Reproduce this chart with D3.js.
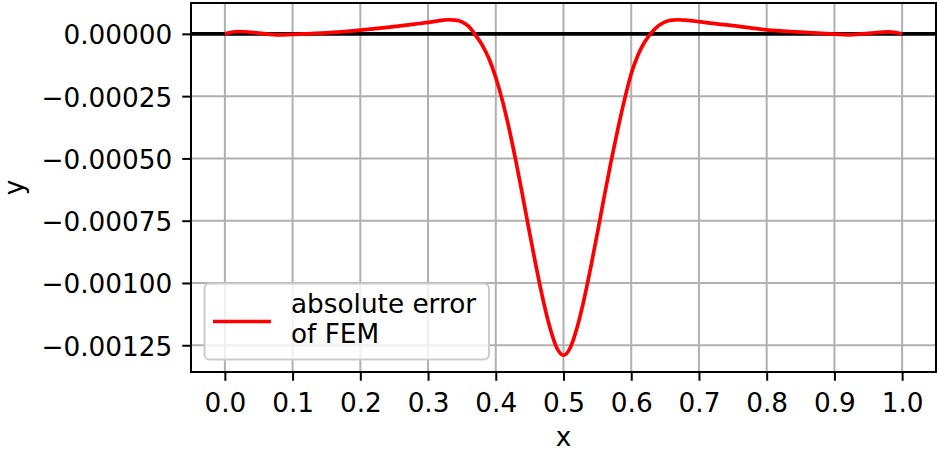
<!DOCTYPE html>
<html>
<head>
<meta charset="utf-8">
<script src="https://cdn.jsdelivr.net/npm/d3@7"></script>
<style>
  body { margin: 0; background: #fff; }
  text { font-family: "DejaVu Sans", sans-serif; }
</style>
</head>
<body>
<svg width="937" height="452"></svg>
<script>
// Sample points of the FEM error curve.
var xs = [0, 0.02, 0.05, 0.08, 0.1, 0.15, 0.2, 0.25, 0.28, 0.3, 0.32, 0.33, 0.34, 0.35, 0.36, 0.37,
  0.38, 0.39, 0.40, 0.41, 0.42, 0.43, 0.44, 0.45, 0.46, 0.47, 0.48, 0.49, 0.50,
  0.51, 0.52, 0.53, 0.54, 0.55, 0.56, 0.57, 0.58, 0.59, 0.60, 0.61, 0.62, 0.63,
  0.64, 0.65, 0.66, 0.67, 0.68, 0.70, 0.72, 0.75, 0.8, 0.85, 0.9, 0.92, 0.95, 0.98, 1.0];
var ys = [0, 0.0000095, 0.000003, -0.000004, -0.000002, 0.000004, 0.000015, 0.000029, 0.000039, 0.000046, 0.000054, 0.0000565, 0.000055, 0.000048, 0.00003, -0.000005,
  -0.000045, -0.0001, -0.000175, -0.00027, -0.000385, -0.000515, -0.000655, -0.0008, -0.00094, -0.00107, -0.00118, -0.00126, -0.00129,
  -0.00126, -0.00118, -0.00107, -0.00094, -0.0008, -0.000655, -0.000515, -0.000385, -0.000265, -0.00016, -0.000085, -0.000032, 0.000005,
  0.000032, 0.000048, 0.000055, 0.0000565, 0.000055, 0.000049, 0.000042, 0.000033, 0.000016, 0.000007, -0.000001, -0.000004, 0.000002, 0.000008, 0];

var xTicks = [0, 0.1, 0.2, 0.3, 0.4, 0.5, 0.6, 0.7, 0.8, 0.9, 1.0];
var yTicks = [0, -0.00025, -0.0005, -0.00075, -0.001, -0.00125];
var legendLines = ["absolute error", "of FEM"];

var svg = d3.select("svg");
// plot area edges (avoid the name "top", it is window.top)
var pL = 191, pT = 3, pR = 936, pB = 372;
var fs = 26.3;

// matplotlib-like 5% padding on both axes
var xmin = d3.min(xs), xmax = d3.max(xs);
var ymin = d3.min(ys), ymax = d3.max(ys);
var xpad = (xmax - xmin) * 0.05, ypad = (ymax - ymin) * 0.05;

var x = d3.scaleLinear().domain([xmin - xpad, xmax + xpad]).range([pL, pR]);
var y = d3.scaleLinear().domain([ymin - ypad, ymax + ypad]).range([pB, pT]);

// Grid
var grid = svg.append("g");
grid.selectAll("line.vx").data(xTicks).enter().append("line")
  .attr("x1", d => x(d)).attr("x2", d => x(d))
  .attr("y1", pT).attr("y2", pB)
  .attr("stroke", "#b0b0b0").attr("stroke-width", 2);
grid.selectAll("line.hy").data(yTicks).enter().append("line")
  .attr("x1", pL).attr("x2", pR)
  .attr("y1", d => y(d)).attr("y2", d => y(d))
  .attr("stroke", "#b0b0b0").attr("stroke-width", 2);

// Zero line
svg.append("line")
  .attr("x1", pL).attr("x2", pR)
  .attr("y1", y(0)).attr("y2", y(0))
  .attr("stroke", "#000").attr("stroke-width", 3.6);

// Error curve
var pts = xs.map((d, i) => [d, ys[i]]);
var line = d3.line().x(d => x(d[0])).y(d => y(d[1])).curve(d3.curveMonotoneX);
svg.append("path").datum(pts)
  .attr("d", line)
  .attr("fill", "none")
  .attr("stroke", "#ff0000")
  .attr("stroke-width", 3.7)
  .attr("stroke-linejoin", "round");

// Spines
svg.append("rect")
  .attr("x", pL).attr("y", pT)
  .attr("width", pR - pL).attr("height", pB - pT)
  .attr("fill", "none").attr("stroke", "#000").attr("stroke-width", 2);

// Axes
var xAxis = svg.append("g").attr("transform", "translate(0," + pB + ")")
  .call(d3.axisBottom(x).tickValues(xTicks).tickFormat(d3.format(".1f")).tickSize(8.75).tickSizeOuter(0).tickPadding(12.5));
var yAxis = svg.append("g").attr("transform", "translate(" + pL + ",0)")
  .call(d3.axisLeft(y).tickValues(yTicks).tickFormat(d3.format(".5f")).tickSize(8.75).tickSizeOuter(0).tickPadding(10));
[xAxis, yAxis].forEach(function(a) {
  a.select(".domain").remove();
  a.selectAll(".tick line").attr("stroke", "#000").attr("stroke-width", 2);
  a.selectAll(".tick text").attr("fill", "#000").style("font-size", fs + "px").attr("font-family", "DejaVu Sans");
});
yAxis.selectAll(".tick text").attr("dy", "0.38em");

// Axis labels
svg.append("text").attr("x", (pL + pR) / 2).attr("y", 446)
  .attr("text-anchor", "middle").style("font-size", fs + "px").text("x");
svg.append("text").attr("transform", "translate(23," + (pT + pB) / 2 + ") rotate(-90)")
  .attr("text-anchor", "middle").style("font-size", fs + "px").text("y");

// Legend
var lg = svg.append("g");
lg.append("rect")
  .attr("x", 204.5).attr("y", 283.5).attr("width", 284.5).attr("height", 76)
  .attr("rx", 5).attr("ry", 5)
  .attr("fill", "#fff").attr("fill-opacity", 0.8)
  .attr("stroke", "#cccccc").attr("stroke-width", 2);
lg.append("line")
  .attr("x1", 213).attr("x2", 271).attr("y1", 321.5).attr("y2", 321.5)
  .attr("stroke", "#ff0000").attr("stroke-width", 3.7);
lg.selectAll("text.lt").data(legendLines).enter().append("text")
  .attr("x", 291).attr("y", (d, i) => 313 + i * 29.5)
  .style("font-size", fs + "px").text(d => d);
</script>
</body>
</html>
